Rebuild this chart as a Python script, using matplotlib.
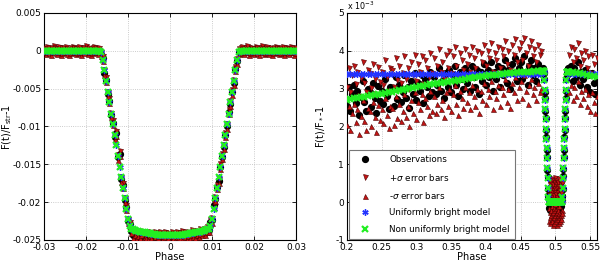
import numpy as np
import matplotlib.pyplot as plt
from matplotlib.ticker import FuncFormatter, MultipleLocator

# ---- left panel: primary transit, flux in units of 1e-4, cadence 0.0004 in phase
phase_l = np.round(np.arange(151) * 0.0004 - 0.03, 4)
model_l = [0, 0, 0, 0, 0, 0, 0, 0, 0, 0, 0, 0, 0, 0, 0, 0, 0, 0, 0, 0,
           0, 0, 0, 0, 0, 0, 0, 0, 0, 0, 0, 0, 0, 0,
           -2, -12, -26, -40, -54, -68, -83, -97, -111, -125, -139, -153,
           -167, -181, -195, -209, -222, -231,
           -235, -236, -237, -238, -238, -239, -239, -240, -240, -241, -241, -241,
           -242, -242, -242, -243, -243, -243, -243, -244, -244, -244, -244, -244,
           -244, -244, -244, -244, -243, -243, -243, -243, -242, -242, -242, -241,
           -241, -241, -240, -240, -239, -239, -238, -238, -237, -236, -235,
           -231, -222, -209, -195, -181, -167, -153, -139, -125, -111, -97, -83,
           -68, -54, -40, -26, -12, -2,
           0, 0, 0, 0, 0, 0, 0, 0, 0, 0, 0, 0, 0, 0, 0, 0, 0, 0, 0, 0,
           0, 0, 0, 0, 0, 0, 0, 0, 0, 0, 0, 0, 0, 0]
obs_l = [1, -1, 2, 0, -2, 1, 3, 0, -1, 2, -2, 0, 1, 2, -1, -3, 0, 2, 1, -1,
         0, 2, -2, 1, 0, 3, -1, 1, -2, 0, 2, 1, -1, 1,
         -4, -10, -29, -38, -57, -66, -85, -95, -114, -109, -141, -136,
         -170, -178, -197, -207, -225, -229,
         -238, -244, -240, -246, -242, -245, -241, -247, -243, -244,
         -246, -242, -245, -248, -243, -246, -244, -242, -247, -245,
         -243, -246, -244, -248, -242, -245, -247, -243, -246, -244,
         -241, -245, -243, -246, -242, -244, -240, -243, -245, -241,
         -243, -239, -241, -238, -240, -236, -237,
         -226, -224, -204, -196, -180, -172, -153, -140, -127, -111, -100, -81,
         -70, -55, -42, -24, -14, -1,
         0, 2, -1, 1, 3, -2, 0, 1, -1, 2, 0, -2, 1, 3, -1, 0, 2, -1, 1, -2,
         0, 2, 1, -1, 0, 2, -3, 1, 0, -1, 2, 1, -2, 0]
err_l = 3

# ---- right panel: secondary eclipse, flux in units of 1e-3
phase_mod_pre = np.round(0.2 + 0.005 * np.arange(57), 3)
model_pre = [2.70, 2.72, 2.74, 2.75, 2.77, 2.79, 2.80, 2.82, 2.84, 2.85,
             2.87, 2.89, 2.90, 2.92, 2.94, 2.96, 2.97, 2.99, 3.01, 3.02,
             3.04, 3.06, 3.07, 3.09, 3.11, 3.12, 3.14, 3.15, 3.17, 3.18,
             3.20, 3.21, 3.23, 3.24, 3.26, 3.27, 3.28, 3.30, 3.31, 3.32,
             3.34, 3.35, 3.36, 3.37, 3.38, 3.39, 3.40, 3.41, 3.42, 3.43,
             3.43, 3.44, 3.45, 3.45, 3.46, 3.46, 3.46]
phase_mod_post = np.round(0.52 + 0.005 * np.arange(9), 3)
model_post = [3.45, 3.43, 3.42, 3.40, 3.38, 3.36, 3.34, 3.32, 3.30]
uniform_level = 3.39

phase_ecl = np.round(0.481 + 0.0005 * np.arange(77), 4)
model_ecl = [3.46, 3.46, 3.46, 3.46, 3.46,
             3.45, 3.22, 2.96, 2.70, 2.45, 2.19, 1.93, 1.68, 1.42, 1.16, 0.90,
             0.64, 0.38, 0.13,
             0, 0, 0, 0, 0, 0, 0, 0, 0, 0, 0, 0, 0, 0, 0, 0, 0, 0, 0, 0,
             0, 0, 0, 0, 0, 0, 0, 0, 0, 0, 0, 0, 0, 0, 0, 0, 0, 0, 0,
             0.13, 0.38, 0.64, 0.90, 1.16, 1.42, 1.68, 1.93, 2.19, 2.45, 2.70,
             2.96, 3.22, 3.45,
             3.45, 3.45, 3.45, 3.45, 3.45]
obs_ecl = [3.50, 3.40, 3.55, 3.35, 3.45,
           3.40, 3.25, 2.92, 2.74, 2.41, 2.22, 1.90, 1.71, 1.38, 1.19, 0.86,
           0.67, 0.35, 0.16,
           0.05, -0.15, 0.20, -0.05, 0.10, -0.20, 0.15, 0.00, -0.10, 0.25,
           -0.15, 0.05, -0.25, 0.10, 0.20, -0.05, -0.20, 0.15, 0.00, 0.30,
           -0.10, 0.05, -0.15, 0.20, -0.25, 0.10, 0.00, -0.10, 0.15, -0.20,
           0.05, 0.25, -0.05, -0.15, 0.10, 0.00, -0.10, 0.15, 0.05,
           0.17, 0.34, 0.68, 0.87, 1.20, 1.39, 1.72, 1.90, 2.23, 2.42, 2.74,
           2.93, 3.26, 3.41,
           3.50, 3.35, 3.55, 3.40, 3.48]

phase_obs_pre = np.round(0.2 + 0.0025 * np.arange(113), 4)
obs_pre = [2.55, 3.05, 2.40, 2.85, 3.10, 2.62, 2.95, 2.30, 2.78, 3.20,
           2.65, 2.40, 3.00, 2.90, 2.52, 3.15, 2.75, 2.35, 3.08, 2.68,
           2.95, 2.60, 3.25, 2.80, 2.45, 3.05, 2.98, 2.55, 3.30, 2.72,
           3.10, 2.65, 2.90, 3.35, 2.75, 3.05, 2.50, 3.20, 2.85, 3.40,
           2.70, 3.15, 2.95, 3.35, 2.62, 3.25, 3.05, 2.80, 3.45, 2.90,
           3.30, 2.85, 3.10, 3.55, 2.95, 3.20, 2.75, 3.40, 3.05, 3.50,
           2.90, 3.35, 3.60, 3.10, 2.80, 3.45, 3.25, 3.00, 3.55, 3.15,
           3.40, 2.95, 3.60, 3.30, 3.05, 3.50, 2.85, 3.45, 3.20, 3.65,
           3.10, 3.50, 3.30, 3.70, 2.95, 3.45, 3.25, 3.60, 3.05, 3.55,
           3.35, 3.75, 3.15, 3.50, 3.00, 3.65, 3.40, 3.80, 3.20, 3.55,
           3.70, 3.25, 3.85, 3.45, 3.10, 3.60, 3.75, 3.35, 3.55, 3.20,
           3.65, 3.40, 3.50]
phase_obs_post = np.round(0.52 + 0.0025 * np.arange(17), 4)
obs_post = [3.40, 3.60, 3.20, 3.55, 3.30, 3.70, 3.10, 3.45, 3.25, 3.50,
            3.05, 3.35, 2.90, 3.40, 3.15, 2.85, 3.30]
err_out = 0.5
err_bottom = 0.35

RED = '#c41414'
RED_EDGE = '#4a0000'
BLUE = '#2233ff'
GREEN = '#22ee22'
ASTER = (6, 2, 0)

plt.rcParams['font.family'] = 'DejaVu Sans'
plt.rcParams['font.size'] = 6.5

fig = plt.figure(figsize=(6, 2.61), dpi=100)
ax1 = fig.add_axes([0.0733, 0.0805, 0.42, 0.870])
ax2 = fig.add_axes([0.5783, 0.0805, 0.4167, 0.870])


def draw_points(ax, ph, obs, err, ph_mod, uni, non):
    h_obs, = ax.plot(ph, obs, 'o', color='black', ms=4.2, zorder=2)
    h_up, = ax.plot(ph, obs + err, 'v', mfc=RED, mec=RED_EDGE, mew=0.4, ms=3.6, zorder=3)
    h_dn, = ax.plot(ph, obs - err, '^', mfc=RED, mec=RED_EDGE, mew=0.4, ms=3.6, zorder=3)
    h_uni, = ax.plot(ph_mod, uni, ls='none', marker=ASTER, color=BLUE, ms=4.5, mew=1.0, zorder=4)
    h_non, = ax.plot(ph_mod, non, 'x', color=GREEN, ms=4.2, mew=1.6, zorder=5)
    return h_obs, h_up, h_dn, h_uni, h_non


# left panel
ml = np.array(model_l) * 1e-4
ol = np.array(obs_l) * 1e-4
draw_points(ax1, phase_l, ol, err_l * 1e-4, phase_l, ml, ml)
ax1.set_xlim(-0.03, 0.03)
ax1.set_ylim(-0.025, 0.005)
ax1.xaxis.set_major_locator(MultipleLocator(0.01))
ax1.yaxis.set_major_locator(MultipleLocator(0.005))
ax1.set_xlabel('Phase', fontsize=7, labelpad=0)
ax1.set_ylabel(r'F(t)/F$_{\rm str}$-1', fontsize=7)
ax1.yaxis.set_label_coords(-0.118, 0.5)

# right panel
ph_obs = np.concatenate([phase_obs_pre, phase_ecl, phase_obs_post])
ob = np.concatenate([obs_pre, obs_ecl, obs_post])
err = np.concatenate([np.full(len(obs_pre), err_out),
                      np.where(np.abs(phase_ecl - 0.5) < 0.0095, err_bottom, np.nan),
                      np.full(len(obs_post), err_out)])
ph_mod = np.concatenate([phase_mod_pre, phase_ecl, phase_mod_post])
non = np.concatenate([model_pre, model_ecl, model_post])
uni = np.concatenate([np.full(len(model_pre), uniform_level), model_ecl,
                      np.full(len(model_post), uniform_level)])
handles = draw_points(ax2, ph_obs, ob, err, ph_mod, uni, non)
ax2.set_xlim(0.2, 0.56)
ax2.set_ylim(-1, 5)
ax2.xaxis.set_major_locator(MultipleLocator(0.05))
ax2.yaxis.set_major_locator(MultipleLocator(1))
ax2.set_xlabel('Phase', fontsize=7, labelpad=0)
ax2.set_ylabel(r'F(t)/F$_*$-1', fontsize=7)
ax2.yaxis.set_label_coords(-0.08, 0.5)
ax2.text(0.0, 1.003, r'x 10$^{-3}$', transform=ax2.transAxes, fontsize=5.8, va='bottom')

labels = ['Observations', r'+$\sigma$ error bars', r'-$\sigma$ error bars',
          'Uniformly bright model', 'Non uniformly bright model']
leg = ax2.legend(handles, labels, loc='lower left', bbox_to_anchor=(0.008, 0.004),
                 fontsize=6.3, fancybox=False, framealpha=1, edgecolor='#777777',
                 handletextpad=1.6, borderpad=0.6, labelspacing=0.85,
                 handlelength=2.4, borderaxespad=0)
leg.get_frame().set_linewidth(0.8)

fmt = FuncFormatter(lambda v, p: '%g' % (round(v, 6) + 0.0))
for ax in (ax1, ax2):
    ax.xaxis.set_major_formatter(fmt)
    ax.yaxis.set_major_formatter(fmt)
    ax.grid(True, ls=':', color='#bbbbbb', lw=0.6)
    ax.set_axisbelow(True)
    ax.tick_params(direction='in', length=3, width=0.6, top=True, right=True, pad=2)
    for s in ax.spines.values():
        s.set_linewidth(0.8)

fig.savefig('out.png', dpi=100)
